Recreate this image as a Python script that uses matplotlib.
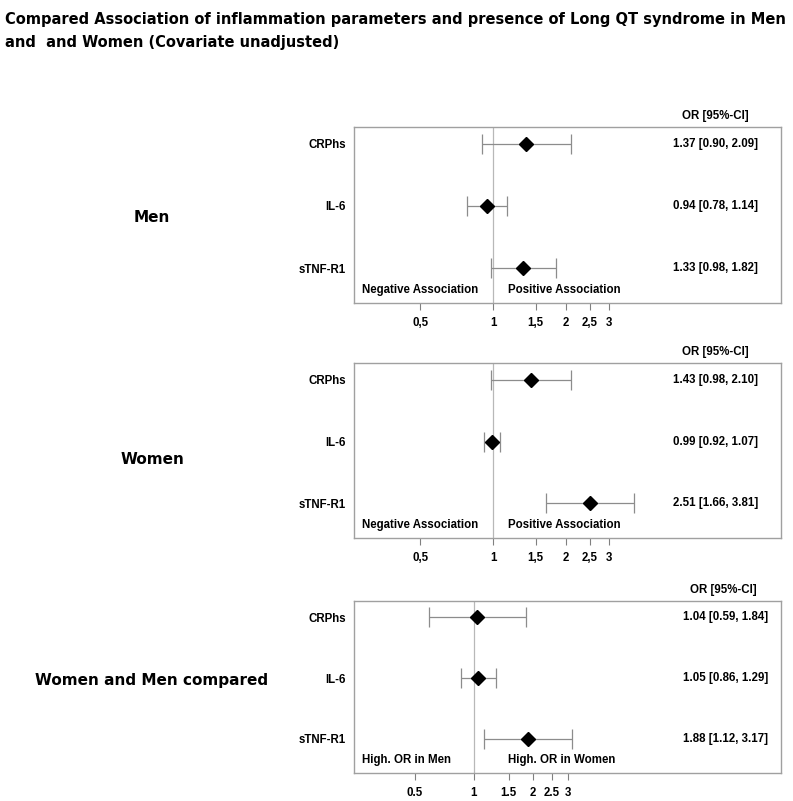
import numpy as np
import matplotlib.pyplot as plt

# ---------------------------------------------------------
# DONNEES (OR et IC 95%)
# ---------------------------------------------------------
markers = ["CRPhs", "IL-6", "sTNF-R1"]

men_or = [1.37, 0.94, 1.33]
men_lo = [0.90, 0.78, 0.98]
men_hi = [2.09, 1.14, 1.82]

women_or = [1.43, 0.99, 2.51]
women_lo = [0.98, 0.92, 1.66]
women_hi = [2.10, 1.07, 3.81]

comp_or = [1.04, 1.05, 1.88]
comp_lo = [0.59, 0.86, 1.12]
comp_hi = [1.84, 1.29, 3.17]

tick_vals = [0.5, 1, 1.5, 2, 2.5, 3]
tick_labels_comma = ["0,5", "1", "1,5", "2", "2,5", "3"]
tick_labels_dot = ["0.5", "1", "1.5", "2", "2.5", "3"]

panels = [
    ("Men", men_or, men_lo, men_hi, tick_labels_comma,
     ("Negative Association", "Positive Association")),
    ("Women", women_or, women_lo, women_hi, tick_labels_comma,
     ("Negative Association", "Positive Association")),
    ("Women and Men compared", comp_or, comp_lo, comp_hi, tick_labels_dot,
     ("High. OR in Men", "High. OR in Women")),
]

# ---------------------------------------------------------
# MISE EN PAGE (en pixels, figure 793 x 801)
# ---------------------------------------------------------
W, H = 793, 801
fig = plt.figure(figsize=(W / 100, H / 100), dpi=100)

# (haut, bas) des cadres, limites x, position texte OR, centre y du label de groupe
boxes = [(127, 303), (363, 538), (601, 773)]
xlims = [(0.267, 15.4), (0.267, 15.4), (0.245, 36.6)]
or_x = [0.747, 0.747, 0.770]
head_x = [0.845, 0.845, 0.866]
group_y = [217, 460, 681]

ax_left, ax_right = 354, 781
grey_frame = "#a0a0a0"
small = 8.3

for i, (name, orv, lo, hi, tlabels, assoc) in enumerate(panels):
    top, bot = boxes[i]
    ax = fig.add_axes([ax_left / W, 1 - bot / H, (ax_right - ax_left) / W, (bot - top) / H])
    ax.set_xscale("log")
    ax.set_xlim(*xlims[i])
    ax.set_ylim(2.56, -0.27)

    ax.axvline(1, color="#b8b8b8", lw=0.9, zorder=1)

    y = np.arange(len(markers))
    orv = np.array(orv)
    err = [orv - np.array(lo), np.array(hi) - orv]
    ax.errorbar(orv, y, xerr=err, fmt="none", ecolor="#8c8c8c", elinewidth=0.9,
                capsize=7.5, capthick=0.9, zorder=2)
    ax.plot(orv, y, "D", color="black", markersize=7.5, zorder=3)

    for yy, o, l, h in zip(y, orv, lo, hi):
        ax.text(or_x[i], yy, f"{o:.2f} [{l:.2f}, {h:.2f}]", transform=ax.get_yaxis_transform(),
                ha="left", va="center", fontsize=small, fontweight="bold",
                family="Liberation Sans")

    # entete au-dessus du cadre
    ax.text(head_x[i], 1 + 11 / (bot - top), "OR [95%-CI]",
            transform=ax.transAxes, ha="center", va="center", fontsize=small,
            fontweight="bold", family="Liberation Sans")

    ax.text(0.019, 0.075, assoc[0], transform=ax.transAxes, ha="left", va="center",
            fontsize=small, fontweight="bold", family="Liberation Sans")
    ax.text(0.361, 0.075, assoc[1], transform=ax.transAxes, ha="left", va="center",
            fontsize=small, fontweight="bold", family="Liberation Sans")

    ax.set_yticks(y)
    ax.set_yticklabels(markers, fontsize=small, fontweight="bold", family="Liberation Sans")
    ax.tick_params(axis="y", length=0, pad=6)

    ax.xaxis.set_minor_locator(plt.NullLocator())
    ax.set_xticks(tick_vals)
    ax.set_xticklabels(tlabels, fontsize=small, fontweight="bold", family="Liberation Sans")
    ax.tick_params(axis="x", length=5, width=0.8, color="#808080", pad=5)

    for sp in ax.spines.values():
        sp.set_color(grey_frame)
        sp.set_linewidth(1.0)

    fig.text(152 / W, 1 - group_y[i] / H, name, ha="center", va="center",
             fontsize=11, fontweight="bold", family="DejaVu Sans")

fig.text(5 / W, 1 - 12 / H,
         "Compared Association of inflammation parameters and presence of Long QT syndrome in Men\n"
         "and  and Women (Covariate unadjusted)",
         ha="left", va="top", fontsize=11.7, fontweight="bold", family="DejaVu Sans",
         fontstretch="condensed", linespacing=1.65)

fig.savefig("out.png", dpi=100)
